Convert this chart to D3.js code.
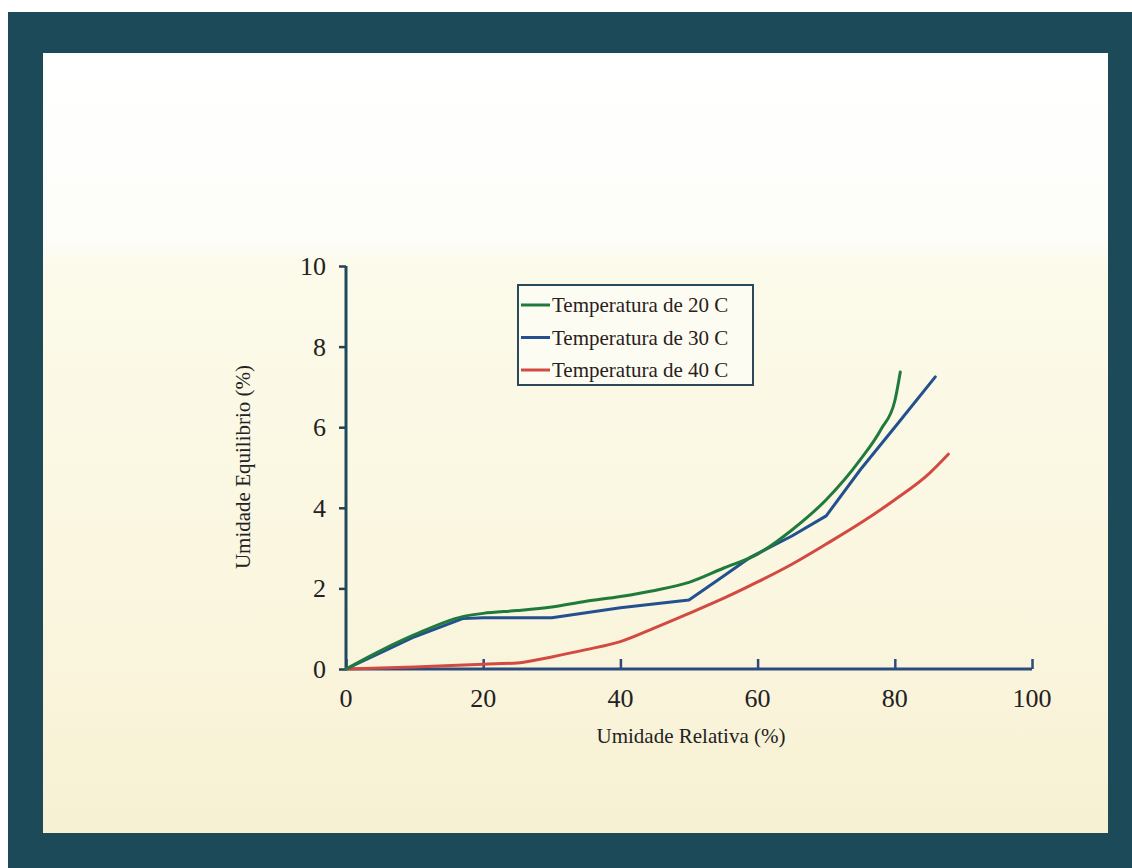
<!DOCTYPE html>
<html>
<head>
<meta charset="utf-8">
<script src="https://cdn.jsdelivr.net/npm/d3@7"></script>
<style>
  html, body { margin: 0; padding: 0; background: #ffffff; }
  svg { display: block; }
</style>
</head>
<body>
<div id="chart"></div>
<script>
// data
const rh20 = [0, 5, 10, 17, 20, 25, 30, 35, 40, 45, 50, 55, 60, 65, 70, 75, 78, 80, 80.8];
const eq20 = [0, 0.45, 0.85, 1.3, 1.38, 1.45, 1.54, 1.68, 1.8, 1.95, 2.15, 2.5, 2.85, 3.45, 4.2, 5.2, 5.95, 6.65, 7.37];

const rh30 = [0, 5, 10, 17, 20, 30, 40, 50, 55, 59, 65, 70, 75, 80, 85.9];
const eq30 = [0, 0.4, 0.8, 1.25, 1.27, 1.27, 1.52, 1.71, 2.3, 2.78, 3.3, 3.8, 4.95, 6.0, 7.25];

const rh40 = [0, 10, 20, 25, 30, 35, 40, 45, 50, 55, 60, 65, 70, 75, 80, 85, 87.8];
const eq40 = [0, 0.05, 0.12, 0.15, 0.3, 0.48, 0.68, 1.02, 1.38, 1.75, 2.16, 2.6, 3.1, 3.62, 4.2, 4.85, 5.33];

const seriesNames = ["Temperatura de 20 C", "Temperatura de 30 C", "Temperatura de 40 C"];
const xTicks = [0, 20, 40, 60, 80, 100];
const yTicks = [0, 2, 4, 6, 8, 10];

const W = 1132, H = 868;
const margin = { left: 346, right: 100, top: 266, bottom: 199 };

let svg = d3.select("#chart").append("svg")
    .attr("width", W)
    .attr("height", H);

let defs = svg.append("defs");
let grad = defs.append("linearGradient")
    .attr("id", "bg")
    .attr("x1", 0).attr("y1", 0).attr("x2", 0).attr("y2", 1);
grad.append("stop").attr("offset", "0%").attr("stop-color", "#ffffff");
grad.append("stop").attr("offset", "24%").attr("stop-color", "#fdfdf9");
grad.append("stop").attr("offset", "27%").attr("stop-color", "#fcfaea");
grad.append("stop").attr("offset", "70%").attr("stop-color", "#faf6df");
grad.append("stop").attr("offset", "100%").attr("stop-color", "#f7f1d3");

// frame
svg.append("rect")
    .attr("x", 8).attr("y", 12)
    .attr("width", W - 8).attr("height", H - 12)
    .attr("fill", "#1c4a58");
svg.append("rect")
    .attr("x", 43).attr("y", 53)
    .attr("width", 1108 - 43).attr("height", 833 - 53)
    .attr("fill", "url(#bg)");

let g = svg.append("g")
    .attr("transform", "translate(" + margin.left + "," + margin.top + ")");

let width = W - margin.left - margin.right;   // 686
let height = H - margin.top - margin.bottom;  // 403

let x = d3.scaleLinear().domain([0, 100]).range([0, width]);
let y = d3.scaleLinear().domain([0, 10]).range([height, 0]);

// x axis (ticks point up into the plot)
let xAxis = g.append("g")
    .attr("transform", "translate(0," + height + ")")
    .call(d3.axisTop(x).tickValues(xTicks).tickSize(10).tickFormat(""));
xAxis.select(".domain").remove();
xAxis.append("line")
    .attr("x1", 0).attr("x2", width)
    .attr("stroke", "#2d4a7c").attr("stroke-width", 3);
xAxis.selectAll(".tick line")
    .attr("stroke", "#2d4a7c").attr("stroke-width", 2.5);

g.append("g")
    .selectAll("text")
    .data(xTicks)
    .enter()
    .append("text")
    .attr("x", d => x(d))
    .attr("y", height + 38)
    .attr("text-anchor", "middle")
    .attr("font-family", "Liberation Serif, serif")
    .attr("font-size", 26)
    .attr("fill", "#222")
    .text(d => d);

// y axis
let yAxis = g.append("g")
    .call(d3.axisLeft(y).tickValues(yTicks).tickSize(7).tickFormat(""));
yAxis.select(".domain").remove();
yAxis.append("line")
    .attr("y1", 0).attr("y2", height)
    .attr("stroke", "#1f4a5e").attr("stroke-width", 3);
yAxis.selectAll(".tick line")
    .attr("stroke", "#2a3f4a").attr("stroke-width", 2.5);

g.append("g")
    .selectAll("text")
    .data(yTicks)
    .enter()
    .append("text")
    .attr("x", -20)
    .attr("y", d => y(d) + 9)
    .attr("text-anchor", "end")
    .attr("font-family", "Liberation Serif, serif")
    .attr("font-size", 26)
    .attr("fill", "#222")
    .text(d => d);

// axis titles
svg.append("text")
    .attr("x", 691)
    .attr("y", 743)
    .attr("text-anchor", "middle")
    .attr("font-family", "Liberation Serif, serif")
    .attr("font-size", 21)
    .attr("fill", "#222")
    .text("Umidade Relativa (%)");

svg.append("text")
    .attr("transform", "translate(250,467) rotate(-90)")
    .attr("text-anchor", "middle")
    .attr("font-family", "Liberation Serif, serif")
    .attr("font-size", 21)
    .attr("fill", "#222")
    .text("Umidade Equilibrio (%)");

// lines
let smooth = d3.line()
    .x(d => x(d[0]))
    .y(d => y(d[1]))
    .curve(d3.curveMonotoneX);
let straight = d3.line()
    .x(d => x(d[0]))
    .y(d => y(d[1]));

let series = [
    { pts: d3.zip(rh40, eq40), color: "#d24a42", line: smooth },
    { pts: d3.zip(rh30, eq30), color: "#23508f", line: straight },
    { pts: d3.zip(rh20, eq20), color: "#1f7a3c", line: smooth }
];

g.selectAll(".line")
    .data(series)
    .enter()
    .append("path")
    .attr("class", "line")
    .attr("fill", "none")
    .attr("stroke", d => d.color)
    .attr("stroke-width", 3)
    .attr("stroke-linejoin", "round")
    .attr("stroke-linecap", "round")
    .attr("d", d => d.line(d.pts));

// legend
let legend = svg.append("g").attr("transform", "translate(518,285)");
legend.append("rect")
    .attr("width", 235).attr("height", 100)
    .attr("fill", "#fdfcf2")
    .attr("stroke", "#2a4a5a").attr("stroke-width", 2);
let legendColors = ["#1f7a3c", "#23508f", "#d24a42"];
let items = legend.selectAll(".item")
    .data(seriesNames)
    .enter()
    .append("g")
    .attr("transform", (d, i) => "translate(0," + (20 + i * 32.5) + ")");
items.append("line")
    .attr("x1", 3).attr("x2", 32)
    .attr("stroke", (d, i) => legendColors[i])
    .attr("stroke-width", 3);
items.append("text")
    .attr("x", 34)
    .attr("y", 7)
    .attr("font-family", "Liberation Serif, serif")
    .attr("font-size", 21)
    .attr("fill", "#2a2020")
    .text(d => d);
</script>
</body>
</html>
